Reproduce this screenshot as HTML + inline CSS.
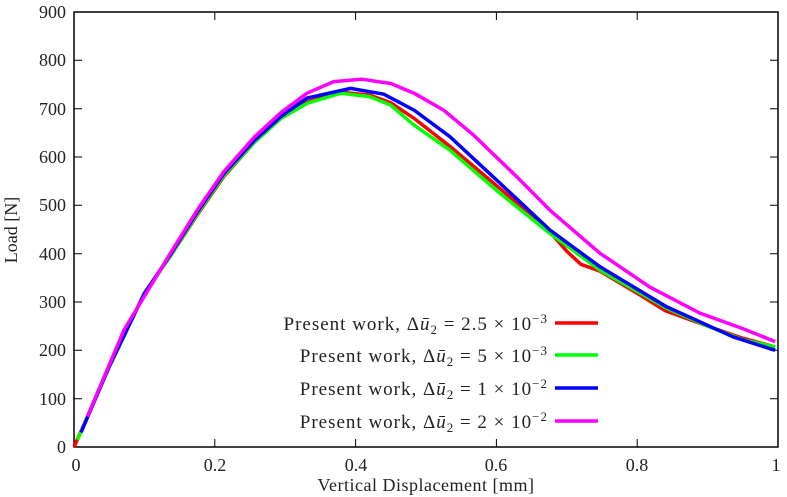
<!DOCTYPE html>
<html><head><style>body{margin:0;background:#fff}svg{display:block}text{font-family:"Liberation Serif",serif;fill:#222}</style></head><body>
<svg width="787" height="497" viewBox="0 0 787 497">
<rect x="74" y="12" width="704" height="435" fill="none" stroke="#000" stroke-width="1.5"/>
<g stroke="#000" stroke-width="1">
<path d="M74 398.7h8M74 350.3h8M74 302h8M74 253.7h8M74 205.3h8M74 157h8M74 108.7h8M74 60.3h8M778 398.7h-8M778 350.3h-8M778 302h-8M778 253.7h-8M778 205.3h-8M778 157h-8M778 108.7h-8M778 60.3h-8M214.8 447v-8M355.6 447v-8M496.4 447v-8M637.2 447v-8M214.8 12v8M355.6 12v8M496.4 12v8M637.2 12v8"/>
</g>
<g font-size="18" text-anchor="end">
<text x="66" y="453">0</text><text x="66" y="405">100</text><text x="66" y="356">200</text><text x="66" y="308">300</text><text x="66" y="260">400</text><text x="66" y="211">500</text><text x="66" y="163">600</text><text x="66" y="115">700</text><text x="66" y="66">800</text><text x="66" y="18">900</text>
</g>
<g font-size="18" text-anchor="middle">
<text x="76" y="471">0</text><text x="215" y="471">0.2</text><text x="356" y="471">0.4</text><text x="496" y="471">0.6</text><text x="637" y="471">0.8</text><text x="776" y="471">1</text>
<text x="426" y="491" letter-spacing="0.5">Vertical Displacement [mm]</text>
<text transform="translate(17 230) rotate(-90)">Load [N]</text>
</g>
<g transform="matrix(704,0,0,-0.48333,74,447)" fill="none" stroke-width="3.5" stroke-linejoin="round">
<polyline vector-effect="non-scaling-stroke" stroke="#f00" points="0,0 0.05,165 0.1,318 0.137,395 0.175,480 0.213,560 0.256,630 0.294,680 0.331,714 0.379,734 0.42,728 0.45,712 0.483,680 0.534,622 0.605,535 0.676,445 0.7,405 0.72,378 0.747,364 0.8,318 0.84,282 0.9,250 0.95,225 0.996,207"/>
<polyline vector-effect="non-scaling-stroke" stroke="#0f0" points="0.005,15 0.05,165 0.1,318 0.137,395 0.175,482 0.213,562 0.256,630 0.294,680 0.331,711 0.379,732 0.42,725 0.45,707 0.483,666 0.534,614 0.605,525 0.676,442 0.747,366 0.842,287 0.9,250 0.95,222 0.996,207"/>
<polyline vector-effect="non-scaling-stroke" stroke="#00f" points="0.01,30 0.05,167 0.1,318 0.137,398 0.175,486 0.213,566 0.256,634 0.294,684 0.331,722 0.393,742 0.44,730 0.483,697 0.534,642 0.605,546 0.676,449 0.747,373 0.842,290 0.936,228 0.996,200"/>
<polyline vector-effect="non-scaling-stroke" stroke="#f0f" points="0.019,63 0.071,242 0.137,401 0.175,490 0.213,570 0.256,641 0.294,692 0.331,732 0.369,756 0.409,761 0.45,752 0.483,732 0.525,697 0.567,646 0.629,559 0.676,490 0.747,401 0.818,331 0.889,277 0.95,245 0.996,218"/>
</g>
<g font-size="19" text-anchor="end" letter-spacing="1">
<text x="548" y="330">Present work, Δ<tspan font-style="italic">ū</tspan><tspan font-size="13" dy="4">2</tspan><tspan dy="-4"> = 2.5 × 10</tspan><tspan font-size="13" dy="-7">−3</tspan></text>
<text x="548" y="362">Present work, Δ<tspan font-style="italic">ū</tspan><tspan font-size="13" dy="4">2</tspan><tspan dy="-4"> = 5 × 10</tspan><tspan font-size="13" dy="-7">−3</tspan></text>
<text x="548" y="395">Present work, Δ<tspan font-style="italic">ū</tspan><tspan font-size="13" dy="4">2</tspan><tspan dy="-4"> = 1 × 10</tspan><tspan font-size="13" dy="-7">−2</tspan></text>
<text x="548" y="428">Present work, Δ<tspan font-style="italic">ū</tspan><tspan font-size="13" dy="4">2</tspan><tspan dy="-4"> = 2 × 10</tspan><tspan font-size="13" dy="-7">−2</tspan></text>
</g>
<g stroke-width="3.5">
<line x1="555" y1="323" x2="598" y2="323" stroke="#f00"/>
<line x1="555" y1="355" x2="598" y2="355" stroke="#0f0"/>
<line x1="555" y1="388" x2="598" y2="388" stroke="#00f"/>
<line x1="555" y1="421" x2="598" y2="421" stroke="#f0f"/>
</g>
</svg>
</body></html>
